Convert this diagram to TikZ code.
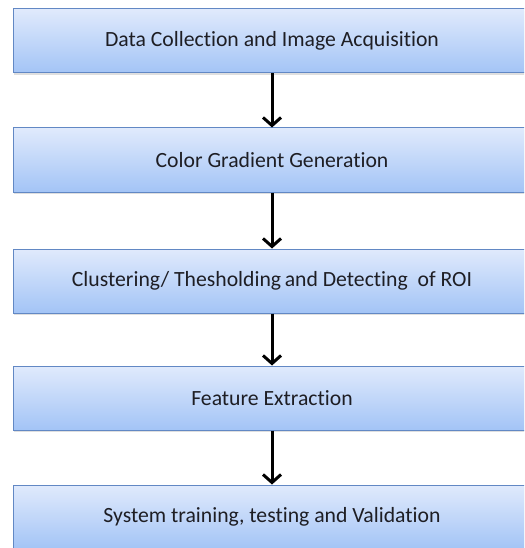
\documentclass[tikz,border=0pt]{standalone}
\usepackage{fontspec}
\setmainfont{Carlito}[Ligatures=NoCommon]
\usetikzlibrary{arrows.meta,shadows}

\definecolor{boxtop}{RGB}{224,234,252}
\definecolor{boxbottom}{RGB}{163,196,246}
\definecolor{boxline}{RGB}{98,136,196}
\definecolor{txt}{RGB}{30,30,36}

\begin{document}
\begin{tikzpicture}[x=1pt,y=-1pt,
  stage/.style={draw=boxline, line width=1pt, top color=boxtop, bottom color=boxbottom,
    minimum width=518pt, minimum height=64pt, inner sep=0pt, text=txt,
    font=\fontsize{21.7}{25}\selectfont,
    drop shadow={shadow xshift=1pt, shadow yshift=-2pt, opacity=0.25}},
  flow/.style={line width=3pt, -{Straight Barb[length=8pt,width=18pt,line width=3pt]}}]
  \useasboundingbox (0,0) rectangle (524,548);
  \clip (0,0) rectangle (524,548);
  % Stages
  \node[stage] (s1) at (272,41) {Data Collection and Image Acquisition};
  \node[stage] (s2) at (272,160) {Color Gradient Generation};
  \node[stage] (s3) at (272,281) {Clustering/ Thesholding\,and Detecting\ \ of ROI};
  \node[stage] (s4) at (272,398) {Feature Extraction};
  \node[stage] (s5) at (272,517) {System training, testing and Validation};

  % Arrows
  \draw[flow] (s1) -- (s2);
  \draw[flow] (s2) -- (s3);
  \draw[flow] (s3) -- (s4);
  \draw[flow] (s4) -- (s5);
\end{tikzpicture}
\end{document}
